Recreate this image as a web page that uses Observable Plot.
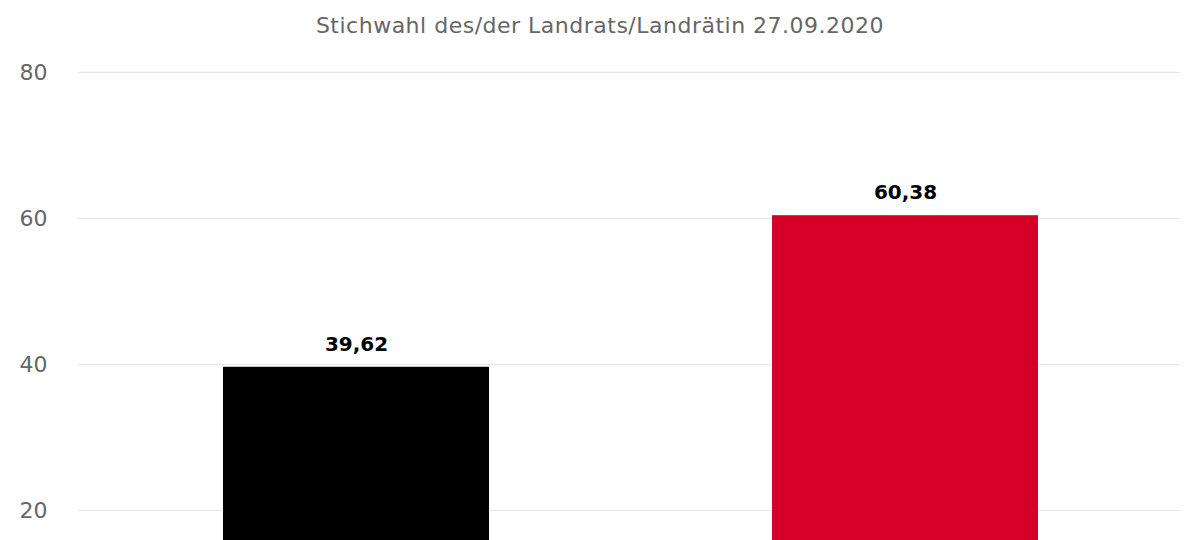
<!DOCTYPE html>
<html>
<head>
<meta charset="utf-8">
<script src="https://cdn.jsdelivr.net/npm/d3@7"></script>
<script src="https://cdn.jsdelivr.net/npm/@observablehq/plot@0.6"></script>
<style>
  html, body { margin: 0; padding: 0; background: #fff; overflow: hidden; }
  #title { height: 50px; line-height: 52px; text-align: center; font-family: "DejaVu Sans", sans-serif; font-size: 22px; letter-spacing: 0.5px; color: #666; width: 1200px; }
</style>
</head>
<body>
<div id="title">Stichwahl des/der Landrats/Landrätin 27.09.2020</div>
<div id="chart"></div>
<script>
const candidates = ["Kandidat A", "Kandidat B"];
const values = [39.62, 60.38];
const colors = ["#000000", "#d50027"];
const yTicks = [20, 40, 60, 80];

const data = candidates.map((c, i) => ({candidate: c, value: values[i], color: colors[i]}));

const chart = Plot.plot({
  width: 1200,
  height: 490,
  marginLeft: 78,
  marginRight: 20,
  marginTop: 0,
  marginBottom: 0,
  style: {fontFamily: "DejaVu Sans, sans-serif", fontSize: "22px", background: "#fff"},
  x: {domain: candidates, range: [78, 1182], paddingInner: 0.516, paddingOuter: 0.262, axis: null},
  y: {domain: [15.89, 83.01], axis: null},
  marks: [
    Plot.ruleY(yTicks, {stroke: "#e6e6e6", strokeWidth: 1.2}),
    Plot.axisY(yTicks, {tickSize: 0, tickPadding: 31, fill: "#666", stroke: null, fontSize: 22, label: null}),
    Plot.barY(data, {x: "candidate", y: "value", fill: "color", clip: true}),
    Plot.text(data, {x: "candidate", y: "value", text: d => d.value.toFixed(2).replace(".", ","), dy: -23, fontWeight: "bold", fontSize: 20, fill: "#000"})
  ]
});
document.getElementById("chart").appendChild(chart);
</script>
</body>
</html>
